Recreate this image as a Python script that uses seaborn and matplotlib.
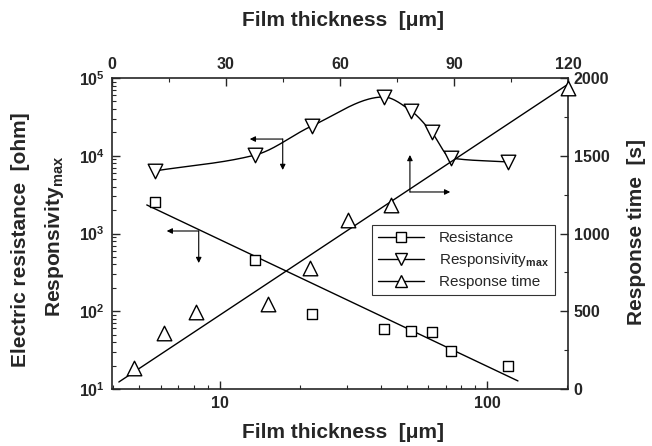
import numpy as np
import pandas as pd
import matplotlib
matplotlib.use("Agg")
import matplotlib.pyplot as plt
from matplotlib.lines import Line2D
from matplotlib.ticker import FixedLocator, FuncFormatter, NullFormatter, MultipleLocator, LogLocator
import seaborn as sns

# Film thickness of each sample [um]
thickness = [5.7, 13.6, 22.1, 41.0, 52.0, 62.0, 73.5, 120.0]
# Electric resistance [ohm]
resistance = [2540, 456, 92, 59, 55.7, 54, 30.8, 19.8]
# Maximum responsivity
responsivity = [6370, 10240, 24150, 57000, 37700, 20200, 9350, 8320]
# Response time [s]
response_time = [135, 360, 495, 547, 778, 1087, 1183, 1936]

# Fitted trend lines (end points)
res_fit_x = [5.33, 130.6]
res_fit_y = [2330, 12.7]
rt_fit_x = [1.8, 120.0]
rt_fit_y = [45, 1960]

# Guide arrows: (origin x, origin y, horizontal tip x, vertical tip y)
res_arrow = (8.34, 1077, 6.33, 417)
resp_arrow = (17.2, 16400, 12.95, 6560)
rt_arrow = (78.4, 1267, 89.0, 1505)

sns.set_style("ticks")
plt.rcParams.update({
    "font.family": ["Liberation Sans", "DejaVu Sans"],
    "font.weight": "bold",
    "mathtext.fontset": "custom",
    "mathtext.rm": "Liberation Sans",
    "mathtext.bf": "Liberation Sans:bold",
    "mathtext.it": "Liberation Sans:italic",
    "axes.linewidth": 1.2,
    "xtick.direction": "in",
    "ytick.direction": "in",
})


def pchip(x, y, xn):
    """Monotone piecewise cubic Hermite curve through (x, y)."""
    x = np.asarray(x, float)
    y = np.asarray(y, float)
    h = np.diff(x)
    d = np.diff(y) / h
    m = np.zeros_like(y)
    for k in range(1, len(x) - 1):
        if d[k - 1] * d[k] > 0:
            w1 = 2 * h[k] + h[k - 1]
            w2 = h[k] + 2 * h[k - 1]
            m[k] = (w1 + w2) / (w1 / d[k - 1] + w2 / d[k])
    m[0] = d[0]
    m[-1] = d[-1]
    idx = np.clip(np.searchsorted(x, xn) - 1, 0, len(x) - 2)
    t = (xn - x[idx]) / h[idx]
    h00 = 2 * t**3 - 3 * t**2 + 1
    h10 = t**3 - 2 * t**2 + t
    h01 = -2 * t**3 + 3 * t**2
    h11 = t**3 - t**2
    return h00 * y[idx] + h10 * h[idx] * m[idx] + h01 * y[idx + 1] + h11 * h[idx] * m[idx + 1]


fig = plt.figure(figsize=(6.52, 4.46), dpi=100)
ax = fig.add_axes([112 / 652, 1 - 389 / 446, 456 / 652, 311 / 446])

# Smooth curve through the responsivity points (log-log space)
lx = np.log10(thickness)
ly = np.log10(responsivity)
lxn = np.linspace(lx[0], lx[-1], 300)
curve = pd.DataFrame({"x": 10**lxn, "y": 10**pchip(lx, ly, lxn)})

ax.set_xscale("log")
ax.set_yscale("log")
sns.lineplot(data=curve, x="x", y="y", color="black", lw=1.0, ax=ax,
             sort=False, estimator=None)
sns.lineplot(x=res_fit_x, y=res_fit_y, color="black", lw=1.0, ax=ax)
sns.scatterplot(x=thickness, y=resistance, marker="s", s=55, color="white",
                edgecolor="black", linewidth=1.0, ax=ax, zorder=3)
sns.scatterplot(x=thickness, y=responsivity, marker="v", s=110, color="white",
                edgecolor="black", linewidth=1.0, ax=ax, zorder=3)

ax.set_xlim(3.95, 201)
ax.set_ylim(10, 1e5)

arrow_kw = dict(arrowstyle="-|>", color="black", lw=0.8,
                mutation_scale=8, shrinkA=0, shrinkB=0)
for ox, oy, hx, vy in (res_arrow, resp_arrow):
    ax.annotate("", xy=(hx, oy), xytext=(ox, oy), arrowprops=arrow_kw)
    ax.annotate("", xy=(ox, vy), xytext=(ox, oy), arrowprops=arrow_kw)

ax.xaxis.set_major_locator(FixedLocator([10, 100]))
ax.xaxis.set_major_formatter(FuncFormatter(lambda v, p: "%d" % round(v)))
ax.xaxis.set_minor_locator(LogLocator(base=10, subs=np.arange(2, 10)))
ax.xaxis.set_minor_formatter(NullFormatter())
ax.yaxis.set_major_locator(LogLocator(base=10))
ax.yaxis.set_major_formatter(
    FuncFormatter(lambda v, p: r"$\mathbf{10^{%d}}$" % round(np.log10(v))))
ax.yaxis.set_minor_locator(LogLocator(base=10, subs=np.arange(2, 10)))
ax.yaxis.set_minor_formatter(NullFormatter())
ax.tick_params(which="major", length=6, width=1.0, labelsize=11.5, pad=5)
ax.tick_params(which="minor", length=3, width=0.8)
ax.tick_params(top=False, right=False)
ax.set_xlabel("")
ax.set_ylabel("")
for lab in ax.get_xticklabels() + ax.get_yticklabels():
    lab.set_fontweight("bold")

# Response time on linear top / right axes
ax_rt = fig.add_axes(ax.get_position(), frameon=False, label="response")
ax_rt.patch.set_visible(False)
sns.lineplot(x=rt_fit_x, y=rt_fit_y, color="black", lw=1.0, ax=ax_rt)
sns.scatterplot(x=thickness, y=response_time, marker="^", s=110, color="white",
                edgecolor="black", linewidth=1.0, ax=ax_rt, zorder=3,
                clip_on=False)
ox, oy, hx, vy = rt_arrow
ax_rt.annotate("", xy=(hx, oy), xytext=(ox, oy), arrowprops=arrow_kw)
ax_rt.annotate("", xy=(ox, vy), xytext=(ox, oy), arrowprops=arrow_kw)

ax_rt.set_xlim(0, 120)
ax_rt.set_ylim(0, 2000)
ax_rt.xaxis.tick_top()
ax_rt.yaxis.tick_right()
ax_rt.xaxis.set_major_locator(MultipleLocator(30))
ax_rt.xaxis.set_minor_locator(MultipleLocator(15))
ax_rt.yaxis.set_major_locator(MultipleLocator(500))
ax_rt.yaxis.set_minor_locator(MultipleLocator(250))
ax_rt.tick_params(which="major", length=6, width=1.0, labelsize=11.5, pad=4)
ax_rt.tick_params(which="minor", length=3, width=0.8)
ax_rt.set_xlabel("")
ax_rt.set_ylabel("")
for lab in ax_rt.get_xticklabels() + ax_rt.get_yticklabels():
    lab.set_fontweight("bold")

# Axis titles
lab_kw = dict(fontsize=15, fontweight="bold", ha="center", va="center")
fig.text(343 / 652, 1 - 20 / 446, "Film thickness  [\u03bcm]", **lab_kw)
fig.text(343 / 652, 1 - 432 / 446, "Film thickness  [\u03bcm]", **lab_kw)
fig.text(21 / 652, 1 - 240 / 446, "Electric resistance  [ohm]", rotation=90, **lab_kw)
fig.text(55 / 652, 1 - 236 / 446, r"Responsivity$_{\mathbf{max}}$", rotation=90, **lab_kw)
fig.text(636 / 652, 1 - 232 / 446, "Response time  [s]", rotation=90, **lab_kw)

# Legend
mk = dict(color="black", lw=1.0, mfc="white", mec="black", mew=1.0)
handles = [
    Line2D([], [], marker="s", ms=7, **mk),
    Line2D([], [], marker="v", ms=9, **mk),
    Line2D([], [], marker="^", ms=9, **mk),
]
labels = ["Resistance", r"Responsivity$_{\mathrm{max}}$", "Response time"]
leg = fig.legend(handles, labels, loc="upper left",
                 bbox_to_anchor=(372 / 652, 1 - 225 / 446), borderaxespad=0,
                 frameon=True, fancybox=False, edgecolor="black",
                 handlelength=3.0, handletextpad=1.0, labelspacing=0.4,
                 borderpad=0.4, prop={"size": 11, "weight": "normal"})
leg.get_frame().set_linewidth(0.8)

fig.savefig("out.png", dpi=100)
